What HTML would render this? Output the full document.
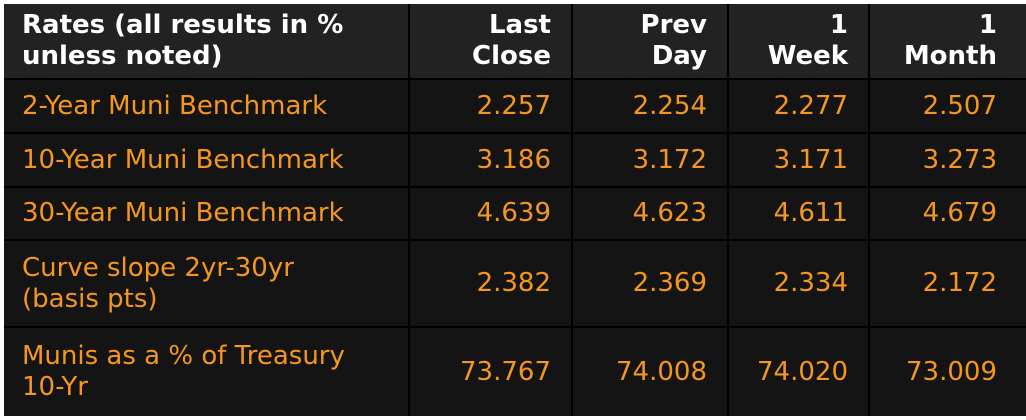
<!DOCTYPE html>
<html><head><style>
html,body{margin:0;padding:0;background:#fff;width:1026px;height:420px;overflow:hidden}
.t{position:absolute;left:4px;top:4px;width:1022px;height:412px;background:#000}
.c{position:absolute;box-sizing:border-box;font-family:"DejaVu Sans","Liberation Sans",sans-serif;font-size:26px;color:#f5961e;display:flex;align-items:center;line-height:31px}
.h{background:#222;color:#fff;font-weight:bold;font-size:26px;line-height:31px}
.r{background:#141414}
.l{padding-left:18px}
.n{justify-content:flex-end;text-align:right;padding-right:20px}
.last{padding-right:29px}
</style></head><body>
<div class="t"></div>
<div id="g"></div>
<script>
var cols=[4,410,573,729,870,1026];
var rows=[4,80,134,188,241,328,416];
var data=[
["Rates (all results in %<br>unless noted)","Last<br>Close","Prev<br>Day","1<br>Week","1<br>Month"],
["2-Year Muni Benchmark","2.257","2.254","2.277","2.507"],
["10-Year Muni Benchmark","3.186","3.172","3.171","3.273"],
["30-Year Muni Benchmark","4.639","4.623","4.611","4.679"],
["Curve slope 2yr-30yr<br>(basis pts)","2.382","2.369","2.334","2.172"],
["Munis as a % of Treasury<br>10-Yr","73.767","74.008","74.020","73.009"]];
var h="";
for(var i=0;i<6;i++)for(var j=0;j<5;j++){
var x=cols[j],w=cols[j+1]-x-(j<4?2:0),y=rows[i],hh=rows[i+1]-y-(i<5?2:0);
h+='<div class="c '+(i==0?'h':'r')+' '+(j==0?'l':'n')+(j==4?' last':'')+'" style="left:'+x+'px;top:'+y+'px;width:'+w+'px;height:'+hh+'px"><div>'+data[i][j]+'</div></div>';}
document.getElementById("g").innerHTML=h;
</script>
</body></html>
